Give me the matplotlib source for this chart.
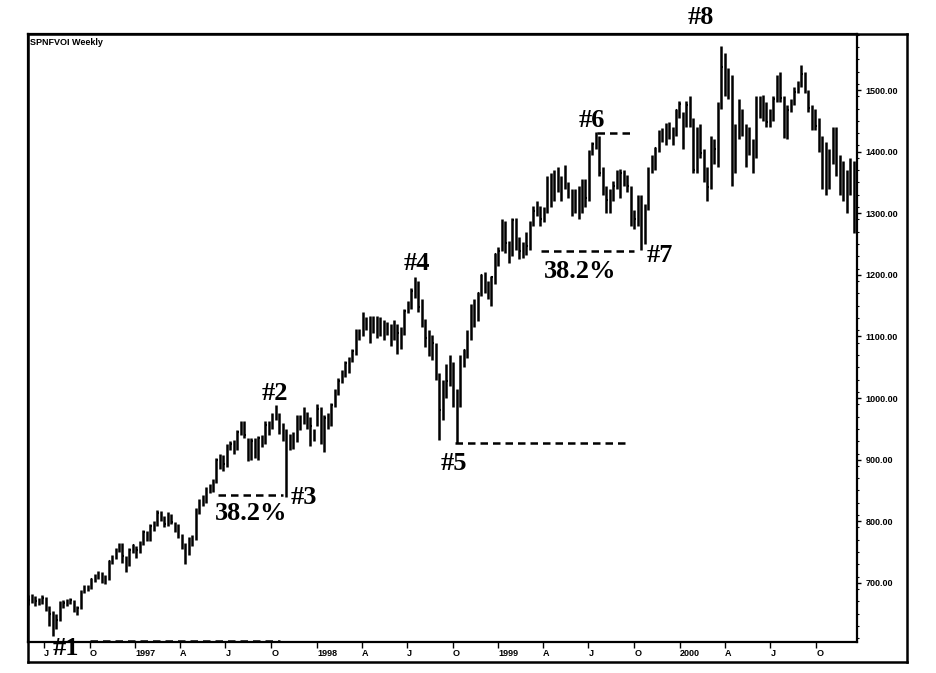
import matplotlib
matplotlib.use("Agg")
import matplotlib.pyplot as plt
import matplotlib.dates as mdates
import numpy as np
import pandas as pd

# weekly bars, S&P futures, end of May 1996 to mid Dec 2000
weeks = pd.date_range("1996-05-31", "2000-12-15", freq="W-FRI")

high = [
    # 1996
    680, 682, 678, 676, 680, 677, 662, 655, 650, 670, 672, 674, 676, 672, 662, 688,
    696, 696, 708, 714, 719, 718, 712, 737, 745, 756, 765, 764, 744, 756, 763,
    # 1997
    760, 768, 786, 785, 795, 800, 818, 817, 808, 815, 812, 798, 796, 780, 765, 775,
    778, 822, 836, 842, 856, 860, 868, 902, 910, 908, 925, 930, 932, 948, 963, 962,
    935, 935, 935, 938, 940, 962, 962, 975, 989, 975, 960, 950, 942, 945, 972, 972,
    985, 978, 970, 950,
    # 1998
    990, 985, 972, 975, 992, 1014, 1032, 1046, 1060, 1066, 1080, 1112, 1112, 1140,
    1132, 1134, 1133, 1133, 1132, 1126, 1124, 1120, 1126, 1120, 1115, 1145, 1158,
    1178, 1196, 1190, 1160, 1128, 1110, 1102, 1090, 1040, 1030, 1055, 1070, 1058,
    1015, 1070, 1080, 1110, 1152, 1160, 1172, 1202, 1204, 1190, 1198, 1236,
    # 1999
    1245, 1290, 1288, 1255, 1292, 1292, 1262, 1254, 1270, 1288, 1312, 1320, 1312,
    1310, 1360, 1365, 1370, 1375, 1360, 1378, 1350, 1340, 1340, 1345, 1355, 1355,
    1402, 1415, 1432, 1425, 1375, 1345, 1340, 1352, 1370, 1372, 1370, 1362, 1345,
    1305, 1330, 1330, 1315, 1375, 1394, 1408, 1435, 1438, 1447, 1448, 1440, 1470,
    1482,
    # 2000
    1465, 1482, 1490, 1455, 1440, 1445, 1405, 1375, 1425, 1420, 1480, 1572, 1560,
    1535, 1525, 1445, 1485, 1470, 1445, 1440, 1420, 1490, 1490, 1492, 1480, 1470,
    1490, 1525, 1530, 1490, 1475, 1485, 1505, 1515, 1540, 1530, 1500, 1475, 1470,
    1455, 1425, 1415, 1405, 1440, 1440, 1395, 1385, 1370, 1390, 1385,
]

low = [
    # 1996
    664, 668, 662, 664, 666, 655, 630, 614, 625, 638, 659, 662, 665, 652, 648, 657,
    684, 686, 690, 702, 706, 700, 698, 704, 731, 738, 750, 732, 718, 728, 749,
    # 1997
    740, 748, 762, 768, 768, 785, 792, 800, 790, 792, 796, 782, 773, 755, 730, 745,
    760, 770, 812, 825, 830, 846, 848, 862, 885, 882, 888, 916, 910, 916, 940, 935,
    898, 900, 902, 900, 920, 925, 940, 950, 965, 942, 930, 839, 915, 918, 928, 948,
    958, 950, 922, 930,
    # 1998
    955, 925, 912, 950, 955, 985, 1005, 1024, 1035, 1040, 1058, 1070, 1095, 1100,
    1110, 1090, 1105, 1098, 1100, 1095, 1102, 1085, 1095, 1072, 1080, 1103, 1138,
    1145, 1162, 1140, 1115, 1083, 1068, 1062, 1030, 932, 965, 1000, 1020, 985,
    927, 985, 1050, 1065, 1095, 1115, 1125, 1165, 1170, 1160, 1150, 1185,
    # 1999
    1215, 1238, 1235, 1220, 1230, 1240, 1225, 1228, 1232, 1240, 1280, 1295, 1280,
    1285, 1300, 1310, 1320, 1335, 1320, 1340, 1325, 1295, 1300, 1290, 1300, 1310,
    1320, 1395, 1405, 1360, 1330, 1300, 1300, 1320, 1340, 1325, 1345, 1335, 1280,
    1275, 1280, 1240, 1250, 1305, 1365, 1370, 1400, 1415, 1410, 1420, 1410, 1425,
    1455,
    # 2000
    1405, 1440, 1440, 1365, 1365, 1390, 1350, 1320, 1340, 1380, 1375, 1470, 1490,
    1485, 1345, 1365, 1420, 1425, 1375, 1395, 1365, 1390, 1455, 1450, 1440, 1440,
    1450, 1480, 1480, 1422, 1420, 1465, 1475, 1495, 1505, 1495, 1465, 1435, 1435,
    1400, 1340, 1330, 1340, 1380, 1360, 1330, 1320, 1300, 1330, 1268,
]

close = [
    # 1996
    672, 677, 670, 671, 675, 660, 650, 642, 640, 667, 667, 670, 672, 656, 660, 685,
    692, 691, 706, 710, 715, 705, 708, 735, 742, 753, 762, 744, 733, 753, 761,
    # 1997
    753, 765, 782, 775, 792, 795, 814, 806, 796, 810, 798, 790, 778, 762, 742, 772,
    770, 818, 830, 836, 853, 854, 864, 900, 905, 893, 922, 925, 921, 945, 954, 940,
    905, 930, 905, 935, 930, 957, 952, 972, 973, 950, 948, 920, 933, 935, 970, 962,
    980, 960, 954, 942,
    # 1998
    982, 935, 968, 964, 988, 1011, 1028, 1042, 1057, 1063, 1076, 1108, 1103, 1130,
    1118, 1130, 1115, 1129, 1116, 1116, 1118, 1099, 1122, 1106, 1108, 1141, 1154,
    1173, 1192, 1148, 1128, 1097, 1070, 1089, 1035, 981, 1017, 1028, 1052, 1010,
    992, 1064, 1078, 1106, 1149, 1133, 1171, 1200, 1184, 1174, 1196, 1234,
    # 1999
    1238, 1284, 1252, 1234, 1289, 1248, 1239, 1248, 1247, 1284, 1303, 1308, 1291,
    1302, 1357, 1328, 1365, 1344, 1354, 1346, 1339, 1311, 1336, 1302, 1351, 1324,
    1400, 1412, 1428, 1365, 1337, 1322, 1336, 1345, 1357, 1366, 1360, 1344, 1286,
    1291, 1326, 1256, 1310, 1371, 1379, 1406, 1431, 1425, 1442, 1426, 1430, 1467,
    1478,
    # 2000
    1452, 1476, 1452, 1370, 1435, 1398, 1356, 1342, 1418, 1404, 1475, 1538, 1508,
    1524, 1362, 1442, 1461, 1441, 1428, 1413, 1385, 1485, 1463, 1471, 1448, 1460,
    1485, 1516, 1487, 1425, 1468, 1478, 1497, 1512, 1526, 1500, 1471, 1455, 1441,
    1413, 1379, 1401, 1384, 1432, 1370, 1372, 1346, 1320, 1374, 1312,
]

month_ticks = pd.to_datetime([
    "1996-07-01", "1996-10-01", "1997-01-01", "1997-04-01", "1997-07-01",
    "1997-10-01", "1998-01-01", "1998-04-01", "1998-07-01", "1998-10-01",
    "1999-01-01", "1999-04-01", "1999-07-01", "1999-10-01", "2000-01-01",
    "2000-04-01", "2000-07-01", "2000-10-01",
])
month_labels = ["J", "O", "1997", "A", "J", "O", "1998", "A", "J", "O",
                "1999", "A", "J", "O", "2000", "A", "J", "O"]
price_ticks = [700, 800, 900, 1000, 1100, 1200, 1300, 1400, 1500]

W, H = 936, 673
fig = plt.figure(figsize=(W / 100, H / 100), dpi=100)

# outer frame (chart + price scale + date band)
frame = fig.add_axes([28 / W, 1 - 662 / H, 879 / W, 628 / H])
frame.set_xticks([])
frame.set_yticks([])
for s in frame.spines.values():
    s.set_linewidth(1.8)

ax = fig.add_axes([28 / W, 1 - 642 / H, 829 / W, 608 / H])
ax.patch.set_alpha(0)
for s in ax.spines.values():
    s.set_linewidth(1.6)

x = mdates.date2num(weeks)
ax.vlines(x, low, high, color="black", linewidth=1.8)
ax.hlines(close, x, x + 2.6, color="black", linewidth=1.5)

ax.set_xlim(mdates.date2num(pd.Timestamp("1996-05-30")),
            mdates.date2num(pd.Timestamp("2000-12-22")))
ax.set_ylim(604, 1591)

ax.set_xticks(mdates.date2num(month_ticks))
ax.set_xticklabels(month_labels, fontfamily="Liberation Sans",
                   fontweight="bold", fontsize=6.5)
for lab in ax.get_xticklabels():
    lab.set_horizontalalignment("left")
ax.tick_params(axis="x", direction="out", length=4, width=1, pad=1)

ax.yaxis.tick_right()
ax.set_yticks(price_ticks)
ax.set_yticklabels([f"{v:.2f}" for v in price_ticks],
                   fontfamily="Liberation Sans", fontweight="bold", fontsize=6.5)
ax.set_yticks(np.arange(610, 1591, 20), minor=True)
ax.tick_params(axis="y", which="major", direction="out", length=3, width=1, pad=3)
ax.tick_params(axis="y", which="minor", direction="out", length=1.5, width=0.8)

ax.text(0.002, 0.994, "SPNFVOI Weekly", transform=ax.transAxes, ha="left",
        va="top", fontsize=6.5, fontweight="bold", fontfamily="Liberation Sans")

# retracement guide lines
dash = dict(color="black", linewidth=1.8, linestyle=(0, (3, 2)), clip_on=False)
d = lambda s: mdates.date2num(pd.Timestamp(s))
ax.plot([d("1996-10-01"), d("1997-10-18")], [605, 605], **dash)
ax.plot([d("1997-06-16"), d("1997-10-25")], [843, 843], **dash)
ax.plot([d("1998-10-05"), d("1999-09-22")], [927, 927], **dash)
ax.plot([d("1999-07-18"), d("1999-09-28")], [1430, 1430], **dash)
ax.plot([d("1999-03-27"), d("1999-09-30")], [1238, 1238], **dash)

lab = dict(fontfamily="Liberation Serif", fontweight="bold", fontsize=19,
           ha="center", va="center", clip_on=False)
ax.text(d("1996-08-14"), 594, "#1", **lab)
ax.text(d("1997-10-08"), 1008, "#2", **lab)
ax.text(d("1997-12-06"), 839, "#3", **lab)
ax.text(d("1998-07-21"), 1219, "#4", **lab)
ax.text(d("1998-10-03"), 893, "#5", **lab)
ax.text(d("1999-07-08"), 1451, "#6", **lab)
ax.text(d("1999-11-22"), 1232, "#7", **lab)
ax.text(d("2000-02-12"), 1618, "#8", **lab)

pct = dict(fontfamily="Liberation Serif", fontweight="bold", fontsize=19,
           ha="center", va="center")
ax.text(d("1997-08-21"), 813, "38.2%", **pct)
ax.text(d("1999-06-14"), 1206, "38.2%", **pct)

fig.savefig("out.png", dpi=100)
